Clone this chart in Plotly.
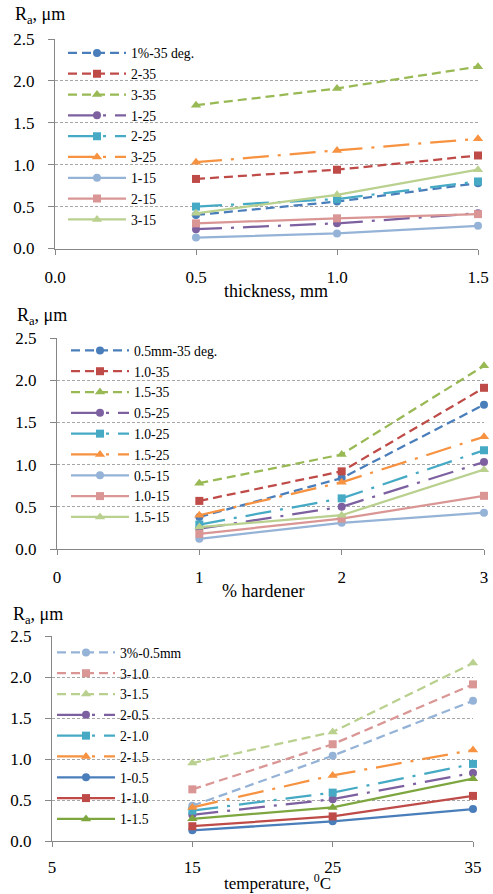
import plotly.graph_objects as go

W, H = 493, 894

# ---------------- data ----------------
# Chart 1: Ra vs thickness (series: hardener% - temperature)
thickness = [0.5, 1.0, 1.5]
names1 = ["1%-35 deg.", "2-35", "3-35", "1-25", "2-25", "3-25", "1-15", "2-15", "3-15"]
h1_T35 = [0.40, 0.56, 0.78]
h2_T35 = [0.83, 0.94, 1.11]
h3_T35 = [1.71, 1.91, 2.17]
h1_T25 = [0.23, 0.30, 0.42]
h2_T25 = [0.50, 0.59, 0.80]
h3_T25 = [1.03, 1.17, 1.31]
h1_T15 = [0.13, 0.18, 0.27]
h2_T15 = [0.30, 0.36, 0.41]
h3_T15 = [0.42, 0.64, 0.94]
values1 = [h1_T35, h2_T35, h3_T35, h1_T25, h2_T25, h3_T25, h1_T15, h2_T15, h3_T15]

# Chart 2: Ra vs % hardener (series: thickness - temperature)
hardener = [1, 2, 3]
names2 = ["0.5mm-35 deg.", "1.0-35", "1.5-35", "0.5-25", "1.0-25", "1.5-25", "0.5-15", "1.0-15", "1.5-15"]
t05_T35 = [0.38, 0.84, 1.71]
t10_T35 = [0.57, 0.92, 1.91]
t15_T35 = [0.78, 1.12, 2.17]
t05_T25 = [0.24, 0.50, 1.03]
t10_T25 = [0.29, 0.60, 1.17]
t15_T25 = [0.40, 0.79, 1.33]
t05_T15 = [0.12, 0.31, 0.43]
t10_T15 = [0.18, 0.36, 0.63]
t15_T15 = [0.26, 0.40, 0.94]
values2 = [t05_T35, t10_T35, t15_T35, t05_T25, t10_T25, t15_T25, t05_T15, t10_T15, t15_T15]

# Chart 3: Ra vs temperature (series: hardener% - thickness)
temperature = [15, 25, 35]
names3 = ["3%-0.5mm", "3-1.0", "3-1.5", "2-0.5", "2-1.0", "2-1.5", "1-0.5", "1-1.0", "1-1.5"]
h3_t05 = [0.43, 1.04, 1.71]
h3_t10 = [0.63, 1.18, 1.91]
h3_t15 = [0.95, 1.33, 2.17]
h2_t05 = [0.32, 0.51, 0.83]
h2_t10 = [0.37, 0.59, 0.94]
h2_t15 = [0.41, 0.80, 1.11]
h1_t05 = [0.13, 0.24, 0.39]
h1_t10 = [0.18, 0.30, 0.55]
h1_t15 = [0.27, 0.41, 0.76]
values3 = [h3_t05, h3_t10, h3_t15, h2_t05, h2_t10, h2_t15, h1_t05, h1_t10, h1_t15]

# ---------------- styles ----------------
DASH = "9px,5px"
DASHDOT = "26px,9px,3px,9px"
SOLID = "solid"
SYMBOLS = ["circle", "square", "triangle-up"] * 3

colors1 = ["#4A7EBB", "#BE4B48", "#98B954", "#7D60A0", "#46AAC5", "#F69240",
           "#95B3D7", "#D99694", "#B9D08F"]
dashes1 = [DASH] * 3 + [DASHDOT] * 3 + [SOLID] * 3
colors3 = ["#95B3D7", "#D99694", "#B9D08F", "#7D60A0", "#46AAC5", "#F69240",
           "#4A7EBB", "#BE4B48", "#7DA63F"]

FONT = "Liberation Serif, Times New Roman, serif"
AXIS_GRAY = "#868686"
GRID_GRAY = "#A6A6A6"


def px_x(p):
    return p / W


def px_y(p):
    return 1 - p / H


fig = go.Figure()

panels = [
    dict(x=thickness, names=names1, values=values1, colors=colors1, dashes=dashes1,
         xa="x", ya="y", leg="legend"),
    dict(x=hardener, names=names2, values=values2, colors=colors1, dashes=dashes1,
         xa="x2", ya="y2", leg="legend2"),
    dict(x=temperature, names=names3, values=values3, colors=colors3, dashes=dashes1,
         xa="x3", ya="y3", leg="legend3"),
]

for p in panels:
    for i, (nm, vals) in enumerate(zip(p["names"], p["values"])):
        sym = SYMBOLS[i]
        fig.add_trace(go.Scatter(
            x=p["x"], y=vals, name=nm, mode="lines+markers",
            line=dict(color=p["colors"][i], width=2.25, dash=p["dashes"][i]),
            marker=dict(symbol=sym, size=9 if sym == "triangle-up" else 8,
                        color=p["colors"][i]),
            xaxis=p["xa"], yaxis=p["ya"], legend=p["leg"], cliponaxis=False,
        ))

common_y = dict(range=[0, 2.5], dtick=0.5, tick0=0, tickformat=".1f", showgrid=True,
                gridcolor=GRID_GRAY, griddash="3px,2px", gridwidth=1,
                showline=True, linecolor=AXIS_GRAY, linewidth=1,
                ticks="outside", ticklen=6, tickcolor=AXIS_GRAY,
                zeroline=False, ticklabelstandoff=10, automargin=False,
                tickfont=dict(family=FONT, size=17, color="#000000"))
common_x = dict(showgrid=False, showline=True, linecolor=AXIS_GRAY, linewidth=1,
                ticks="outside", ticklen=5, tickcolor=AXIS_GRAY, zeroline=False,
                ticklabelstandoff=8, automargin=False,
                tickfont=dict(family=FONT, size=17, color="#000000"))

fig.update_layout(
    xaxis=dict(common_x, domain=[px_x(55), px_x(478)], range=[0, 1.5], dtick=0.5, tick0=0,
               tickformat=".1f", anchor="y"),
    yaxis=dict(common_y, domain=[px_y(248.5), px_y(39)], anchor="x"),
    xaxis2=dict(common_x, domain=[px_x(57), px_x(484)], range=[0, 3], dtick=1, tick0=0,
                anchor="y2"),
    yaxis2=dict(common_y, domain=[px_y(549), px_y(338)], anchor="x2"),
    xaxis3=dict(common_x, domain=[px_x(52), px_x(473)], range=[5, 35], dtick=10, tick0=5,
                anchor="y3", ticklabelstandoff=6),
    yaxis3=dict(common_y, domain=[px_y(841), px_y(636)], anchor="x3"),
)

leg_common = dict(bgcolor="rgba(0,0,0,0)", borderwidth=0, xanchor="left", yanchor="top",
                  itemwidth=58, tracegroupgap=0,
                  font=dict(family=FONT, size=13.7, color="#000000"))
fig.update_layout(
    legend=dict(leg_common, x=px_x(63), y=px_y(37.5)),
    legend2=dict(leg_common, x=px_x(66), y=px_y(335)),
    legend3=dict(leg_common, x=px_x(52), y=px_y(637)),
)

ann = []
for (xc, yc, txt, sz) in [
    (40, 15, "R<sub>a</sub>, μm", 18),
    (42, 316, "R<sub>a</sub>, μm", 18),
    (38, 615, "R<sub>a</sub>, μm", 18),
    (276, 291, "thickness, mm", 18),
    (263, 591, "% hardener", 18),
    (277, 882, "temperature, <sup>0</sup>C", 17),
]:
    ann.append(dict(x=px_x(xc), y=px_y(yc), xref="paper", yref="paper", text=txt,
                    showarrow=False, xanchor="center", yanchor="middle",
                    font=dict(family=FONT, size=sz, color="#000000")))

fig.update_layout(
    width=W, height=H, margin=dict(l=0, r=0, t=0, b=0, autoexpand=False),
    paper_bgcolor="white", plot_bgcolor="white",
    showlegend=True, annotations=ann,
    font=dict(family=FONT, color="#000000"),
)

fig.write_html("out.html", config={"displayModeBar": False},
               post_script="document.body.style.margin='0';document.body.style.overflow='hidden';")
